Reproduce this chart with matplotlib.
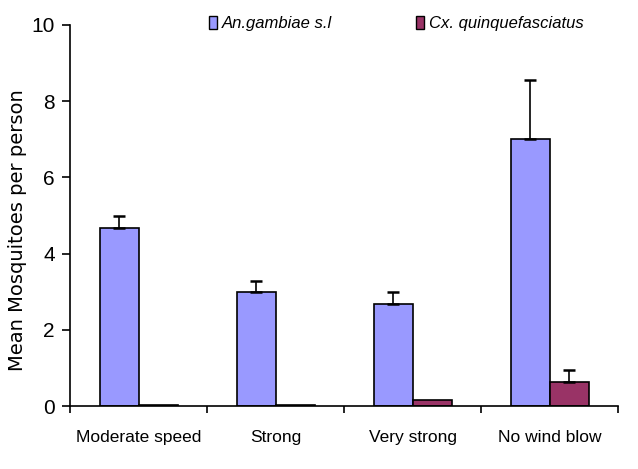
import matplotlib
matplotlib.use("Agg")
import matplotlib.pyplot as plt
import numpy as np
from matplotlib.patches import Patch

categories = ["Moderate speed", "Strong", "Very strong", "No wind blow"]
series_names = ["An.gambiae s.l", "Cx. quinquefasciatus"]
an_mean = [4.68, 3.0, 2.68, 7.0]
an_err = [0.32, 0.28, 0.32, 1.56]
cx_mean = [0.04, 0.04, 0.15, 0.63]
cx_err = [0.0, 0.0, 0.0, 0.33]
yticks = [0, 2, 4, 6, 8, 10]

font = "Liberation Sans"

fig = plt.figure(figsize=(6.38, 4.69), dpi=100)
ax = fig.add_axes([0.11, 0.134, 0.859, 0.813])

x = np.arange(len(categories))
w = 0.285
c_an = "#9999FF"
c_cx = "#993366"
ax.bar(x - w/2, an_mean, w, color=c_an, edgecolor="black", linewidth=1.2,
       yerr=[np.zeros(4), an_err], error_kw=dict(ecolor="black", elinewidth=1.2, capsize=4, capthick=1.8), zorder=2)
ax.bar(x + w/2, cx_mean, w, color=c_cx, edgecolor="black", linewidth=1.2, zorder=2)
ax.errorbar(x[3] + w/2, cx_mean[3], yerr=[[0], [cx_err[3]]], fmt="none", ecolor="black",
            elinewidth=1.2, capsize=4, capthick=1.8, zorder=3)

ax.set_xlim(-0.5, 3.5)
ax.set_ylim(0, 10)
ax.set_yticks(yticks)
ax.set_yticklabels([str(v) for v in yticks], fontfamily=font, fontsize=15)
ax.set_xticks(np.arange(-0.5, 4.0, 1.0))
ax.set_xticklabels([])
ax.set_xticks(x, minor=True)
ax.set_xticklabels(categories, minor=True, fontfamily=font, fontsize=12.5)
ax.tick_params(axis="x", which="minor", length=0, pad=17)
ax.tick_params(axis="x", which="major", length=5, width=1.2, direction="out")
ax.tick_params(axis="y", length=6, width=1.2, direction="out", pad=5)
for s in ["top", "right"]:
    ax.spines[s].set_visible(False)
for s in ["left", "bottom"]:
    ax.spines[s].set_linewidth(1.2)

ax.set_ylabel("Mean Mosquitoes per person", fontfamily="DejaVu Sans", fontsize=14)
ax.yaxis.set_label_coords(-0.078, 0.462)

handles = [Patch(facecolor=c_an, edgecolor="black", linewidth=1.0),
           Patch(facecolor=c_cx, edgecolor="black", linewidth=1.0)]
leg = fig.legend(handles, series_names, loc="upper left", bbox_to_anchor=(0.327, 0.965), ncol=2,
                 frameon=False, handlelength=0.5, handleheight=0.75, handletextpad=0.3, columnspacing=5.0,
                 borderpad=0, borderaxespad=0,
                 prop=dict(family=font, style="italic", size=12))

fig.savefig("out.png", dpi=100, facecolor="white")
